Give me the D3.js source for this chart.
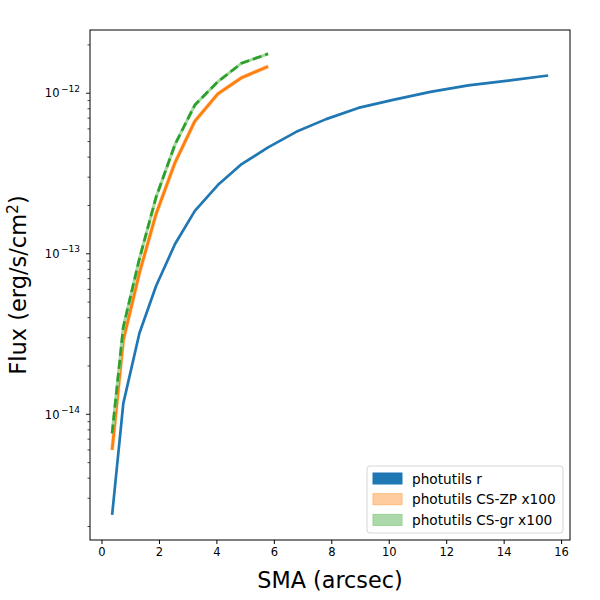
<!DOCTYPE html>
<html>
<head>
<meta charset="utf-8">
<script src="https://cdn.jsdelivr.net/npm/d3@7"></script>
<style>
  body { margin: 0; background: #fff; }
  text { font-family: "DejaVu Sans", sans-serif; }
</style>
</head>
<body>
<div id="panel"></div>
<script>
// semi-major axis (arcsec)
var sma = [0.37, 0.76, 1.32, 1.90, 2.56, 3.25, 4.05, 4.88, 5.80, 6.78, 7.82, 8.94, 10.15, 11.45, 12.77, 14.16, 15.55];
// fluxes (erg/s/cm2)
var fluxR = [2.36e-15, 1.17e-14, 3.2e-14, 6.3e-14, 1.15e-13, 1.85e-13, 2.68e-13, 3.62e-13, 4.6e-13,
             5.75e-13, 6.9e-13, 8.1e-13, 9.1e-13, 1.02e-12, 1.12e-12, 1.2e-12, 1.29e-12];
var fluxZP = [6.0e-15, 2.9e-14, 7.6e-14, 1.77e-13, 3.7e-13, 6.7e-13, 9.9e-13, 1.25e-12, 1.47e-12];
var fluxGR = [7.6e-15, 3.5e-14, 9.3e-14, 2.25e-13, 4.8e-13, 8.45e-13, 1.18e-12, 1.54e-12, 1.76e-12];
var xTicks = [0, 2, 4, 6, 8, 10, 12, 14, 16];
var yTicks = [-14, -13, -12];
var legendLabels = ['photutils r', 'photutils CS-ZP x100', 'photutils CS-gr x100'];

var W = 600, H = 600;
var mLeft = 90, mRight = 570, mTop = 30, mBottom = 540;

var svg = d3.select('#panel').append('svg').attr('width', W).attr('height', H);

var x = d3.scaleLinear().domain([-0.4, 16.31]).range([mLeft, mRight]);
var y = d3.scaleLog().domain([Math.pow(10, -14.783), Math.pow(10, -11.606)]).range([mBottom, mTop]);

function series(vals) {
  return vals.map(function (v, i) { return [sma[i], v]; });
}
var line = d3.line().x(function (d) { return x(d[0]); }).y(function (d) { return y(d[1]); });

var plot = svg.append('g');

// blue
plot.append('path').datum(series(fluxR))
  .attr('d', line).attr('fill', 'none').attr('stroke', '#1f77b4')
  .attr('stroke-width', 2.7).attr('stroke-linejoin', 'round');
// orange band + line
plot.append('path').datum(series(fluxZP))
  .attr('d', line).attr('fill', 'none').attr('stroke', '#ffbb78')
  .attr('stroke-width', 4).attr('stroke-linejoin', 'round').attr('opacity', 0.7);
plot.append('path').datum(series(fluxZP))
  .attr('d', line).attr('fill', 'none').attr('stroke', '#ff7f0e')
  .attr('stroke-width', 2.7).attr('stroke-linejoin', 'round');
// green band + dashed line
plot.append('path').datum(series(fluxGR))
  .attr('d', line).attr('fill', 'none').attr('stroke', '#a5d8a0')
  .attr('stroke-width', 3).attr('stroke-linejoin', 'round');
plot.append('path').datum(series(fluxGR))
  .attr('d', line).attr('fill', 'none').attr('stroke', '#2ca02c')
  .attr('stroke-width', 2.7).attr('stroke-dasharray', '9,4');

// frame
svg.append('rect').attr('x', mLeft).attr('y', mTop)
  .attr('width', mRight - mLeft).attr('height', mBottom - mTop)
  .attr('fill', 'none').attr('stroke', '#000').attr('stroke-width', 1);

// x axis
var xAxis = svg.append('g').attr('transform', 'translate(0,' + mBottom + ')')
  .call(d3.axisBottom(x).tickValues(xTicks).tickSize(4).tickPadding(4).tickFormat(d3.format('d')));
xAxis.select('.domain').remove();
xAxis.attr('font-size', 11.5).attr('font-family', 'DejaVu Sans');

// y axis
var minor = [];
for (var e = -15; e <= -12; e++) {
  for (var m = 2; m <= 9; m++) {
    var v = m * Math.pow(10, e);
    if (v > y.domain()[0] && v < y.domain()[1]) minor.push(v);
  }
}
svg.selectAll('.minor').data(minor).enter().append('line')
  .attr('x1', mLeft - 2.5).attr('x2', mLeft)
  .attr('y1', function (d) { return y(d); }).attr('y2', function (d) { return y(d); })
  .attr('stroke', '#000').attr('stroke-width', 0.7);
var yt = svg.selectAll('.ytick').data(yTicks).enter().append('g')
  .attr('transform', function (d) { return 'translate(0,' + y(Math.pow(10, d)) + ')'; });
yt.append('line').attr('x1', mLeft - 4).attr('x2', mLeft).attr('stroke', '#000').attr('stroke-width', 0.9);
var ytext = yt.append('text').attr('x', mLeft - 10).attr('y', 4.2)
  .attr('text-anchor', 'end').attr('font-size', 11.5);
ytext.append('tspan').text('10');
ytext.append('tspan').attr('dx', 1.5).attr('dy', -5.5).attr('font-size', 9).text(function (d) { return '\u2212' + (-d); });

// labels
svg.append('text').attr('x', (mLeft + mRight) / 2).attr('y', 588)
  .attr('text-anchor', 'middle').attr('font-size', 22.3).text('SMA (arcsec)');
var yl = svg.append('text')
  .attr('transform', 'translate(26,' + (mTop + mBottom) / 2 + ') rotate(-90)')
  .attr('text-anchor', 'middle').attr('font-size', 22.5);
yl.append('tspan').text('Flux (erg/s/cm');
yl.append('tspan').attr('dy', -8).attr('font-size', 15.5).text('2');
yl.append('tspan').attr('dy', 8).text(')');

// legend
var lg = svg.append('g').attr('transform', 'translate(367,466)');
lg.append('rect').attr('width', 196).attr('height', 67).attr('rx', 3)
  .attr('fill', '#fff').attr('fill-opacity', 0.8).attr('stroke', '#d6d6d6');
var legendFill = [['#1f77b4', 1, '#1f77b4'], ['#ff7f0e', 0.4, '#ffbb78'], ['#2ca02c', 0.4, '#98d294']];
var li = lg.selectAll('.li').data(legendLabels).enter().append('g')
  .attr('transform', function (d, i) { return 'translate(0,' + (12.5 + i * 20.7) + ')'; });
li.append('rect').attr('x', 6).attr('y', -5.5).attr('width', 29).attr('height', 11)
  .attr('fill', function (d, i) { return legendFill[i][0]; })
  .attr('fill-opacity', function (d, i) { return legendFill[i][1]; })
  .attr('stroke', function (d, i) { return legendFill[i][2]; });
li.append('text').attr('x', 45).attr('y', 5).attr('font-size', 13.7).text(function (d) { return d; });
</script>
</body>
</html>
